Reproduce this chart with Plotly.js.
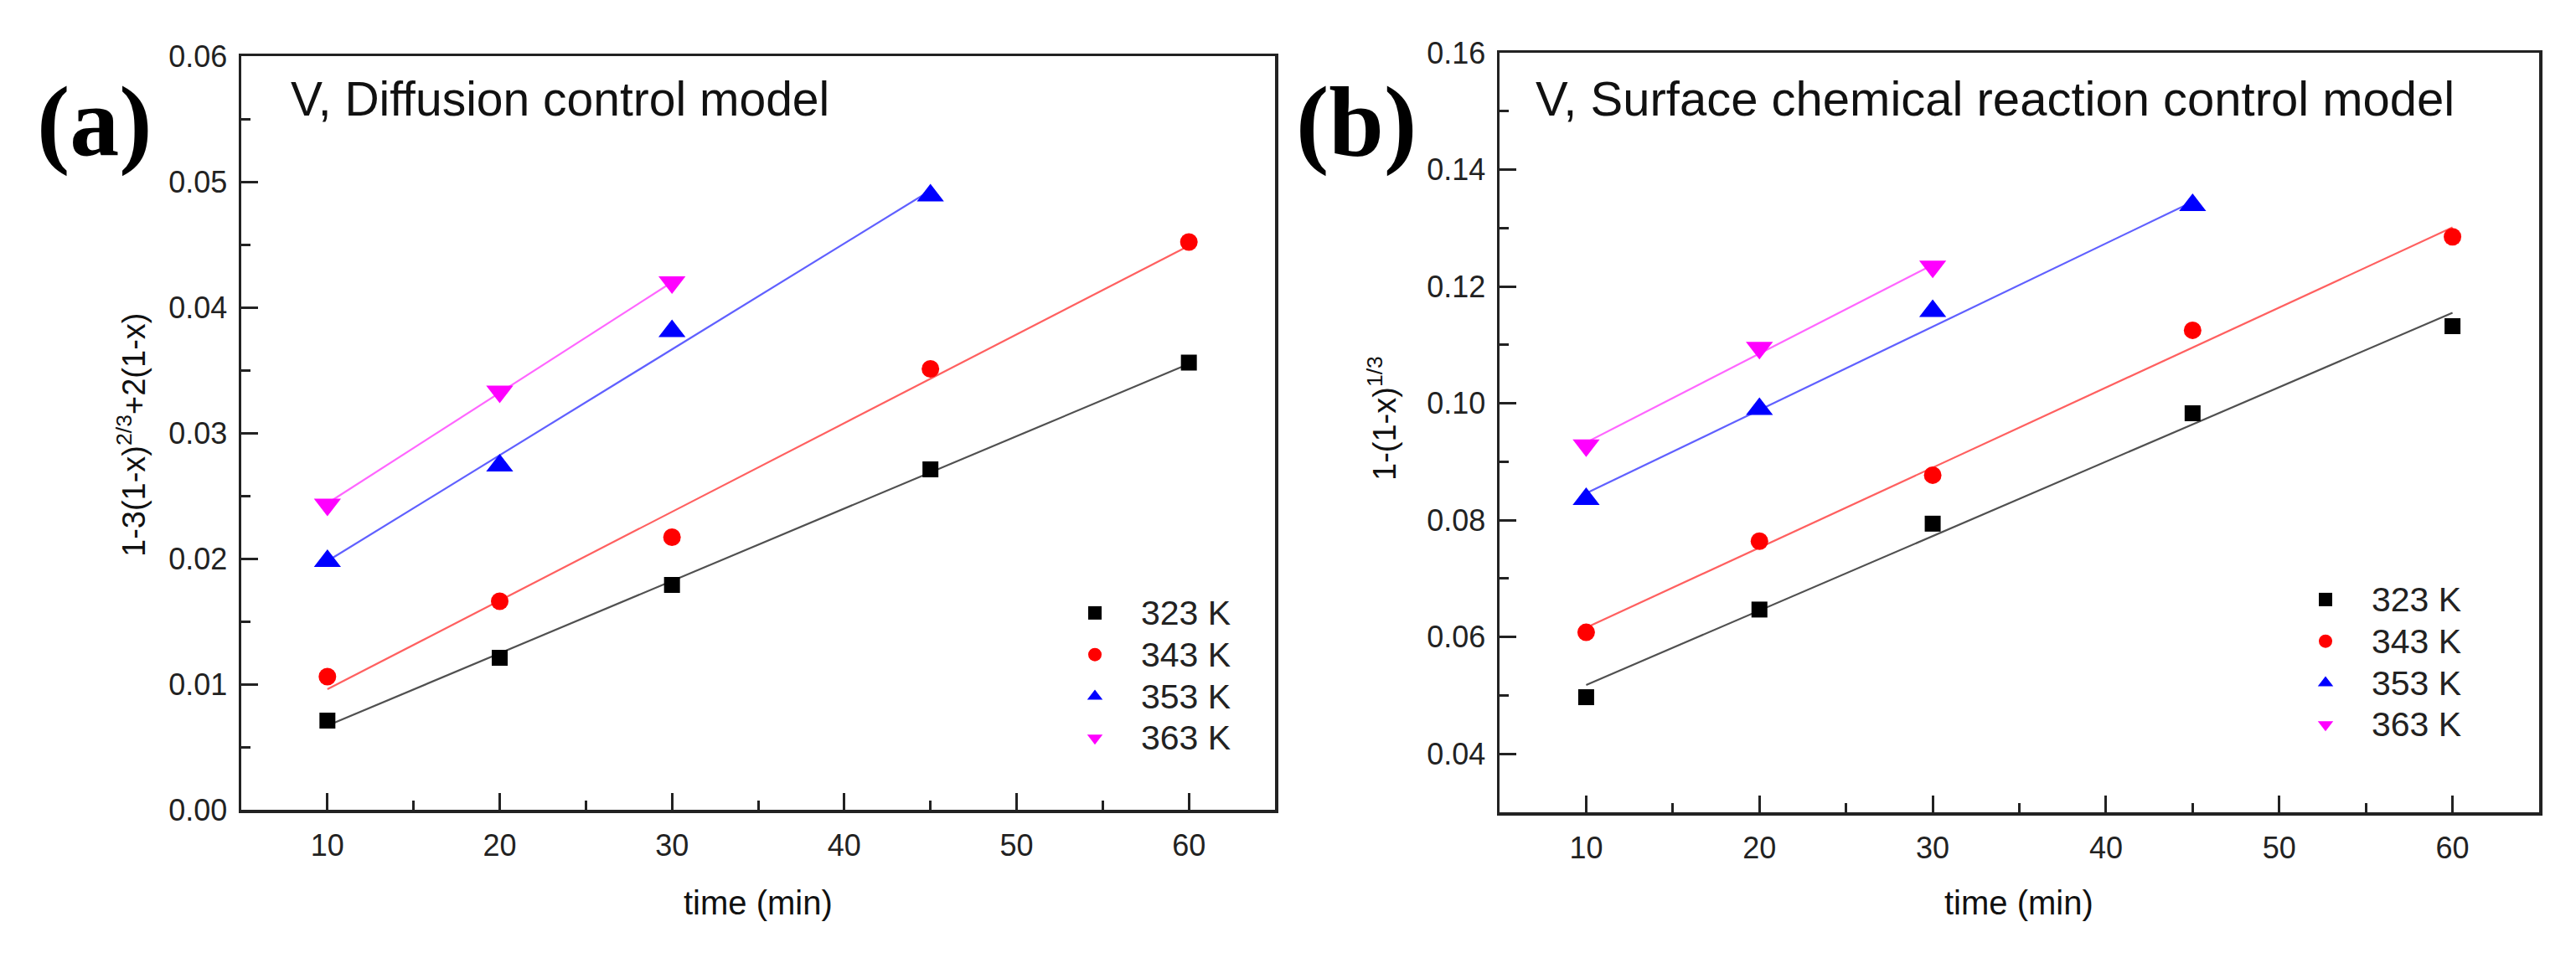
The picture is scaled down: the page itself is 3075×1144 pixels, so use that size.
<!DOCTYPE html>
<html>
<head>
<meta charset="utf-8">
<script src="https://cdn.plot.ly/plotly-3.0.1.min.js"></script>
<style>
  html, body { margin: 0; padding: 0; background: #ffffff; }
  #chart { width: 3075px; height: 1144px; }
</style>
</head>
<body>
<div id="chart"></div>
<script>
// ---------- data ----------
const seriesNames = ["323 K", "343 K", "353 K", "363 K"];

const time323 = [10, 20, 30, 45, 60];
const time343 = [10, 20, 30, 45, 60];
const time353 = [10, 20, 30, 45];
const time363 = [10, 20, 30];

// panel (a): 1-3(1-x)^(2/3)+2(1-x)
const diff323 = [0.0071, 0.0121, 0.0179, 0.0271, 0.0356];
const diff343 = [0.0106, 0.0166, 0.0217, 0.0351, 0.0452];
const diff353 = [0.0198, 0.0274, 0.0381, 0.0489];
const diff363 = [0.0243, 0.0333, 0.0420];

// panel (b): 1-(1-x)^(1/3)
const surf323 = [0.0497, 0.0647, 0.0794, 0.0983, 0.1132];
const surf343 = [0.0608, 0.0764, 0.0877, 0.1125, 0.1285];
const surf353 = [0.0836, 0.0990, 0.1158, 0.1339];
const surf363 = [0.0928, 0.1095, 0.1234];

// linear-fit lines: start / end times and values
const fitTime323 = [10, 60], fitTime343 = [10, 60], fitTime353 = [10, 45], fitTime363 = [10, 30];
const fitDiff323 = [0.0067, 0.0355];
const fitDiff343 = [0.0096, 0.0449];
const fitDiff353 = [0.0198, 0.0493];
const fitDiff363 = [0.0244, 0.0420];
const fitSurf323 = [0.0518, 0.1155];
const fitSurf343 = [0.0616, 0.1301];
const fitSurf353 = [0.0846, 0.1345];
const fitSurf363 = [0.0933, 0.1237];

const xTicks = [10, 20, 30, 40, 50, 60];
const yTicksA = [0.00, 0.01, 0.02, 0.03, 0.04, 0.05, 0.06];
const yTicksB = [0.04, 0.06, 0.08, 0.10, 0.12, 0.14, 0.16];

// ---------- styles ----------
const markerColors = ["#000000", "#ff0000", "#0000ff", "#ff00ff"];
const lineColors = ["#505050", "#ff6060", "#6060ff", "#ff66ff"];
const symbols = ["square", "circle", "triangle-up", "triangle-down"];
const sizes = [19, 21, 28, 28];
const sans = "Liberation Sans, Arial, Helvetica, sans-serif";
const serif = "Liberation Serif, Times New Roman, serif";

const panels = [
  { xa: "x", ya: "y", legend: "legend",
    times: [time323, time343, time353, time363],
    vals: [diff323, diff343, diff353, diff363],
    fitT: [fitTime323, fitTime343, fitTime353, fitTime363],
    fitV: [fitDiff323, fitDiff343, fitDiff353, fitDiff363] },
  { xa: "x2", ya: "y2", legend: "legend2",
    times: [time323, time343, time353, time363],
    vals: [surf323, surf343, surf353, surf363],
    fitT: [fitTime323, fitTime343, fitTime353, fitTime363],
    fitV: [fitSurf323, fitSurf343, fitSurf353, fitSurf363] }
];

const traces = [];
panels.forEach(p => {
  for (let i = 0; i < 4; i++) {
    traces.push({
      type: "scatter", mode: "lines", x: p.fitT[i], y: p.fitV[i],
      xaxis: p.xa, yaxis: p.ya, showlegend: false, hoverinfo: "skip",
      line: { color: lineColors[i], width: 2.2 }
    });
  }
  for (let i = 0; i < 4; i++) {
    traces.push({
      type: "scatter", mode: "markers", x: p.times[i], y: p.vals[i],
      xaxis: p.xa, yaxis: p.ya,
      name: '<span style="font-size:41px">' + seriesNames[i] + '</span>',
      legend: p.legend,
      marker: { symbol: symbols[i], size: sizes[i], color: markerColors[i], line: { width: 0 } }
    });
  }
});

const tickFont = { family: sans, size: 36, color: "#222222" };

function xAxis(domain, anchor) {
  return {
    domain: domain, anchor: anchor, range: [5, 65],
    tickmode: "array", tickvals: xTicks, ticktext: xTicks.map(String),
    ticks: "inside", ticklen: 20, tickwidth: 3, tickcolor: "#222222",
    minor: { ticks: "inside", ticklen: 11, tickwidth: 3, tickcolor: "#222222", dtick: 5, tick0: 5, showgrid: false },
    showline: true, linewidth: 3.5, linecolor: "#222222", mirror: true,
    showgrid: false, zeroline: false, tickfont: tickFont, ticklabelstandoff: 8
  };
}
function yAxis(domain, anchor, range, ticks, minorTick0, minorDtick) {
  return {
    domain: domain, anchor: anchor, range: range,
    tickmode: "array", tickvals: ticks, ticktext: ticks.map(v => v.toFixed(2)),
    ticks: "inside", ticklen: 20, tickwidth: 3, tickcolor: "#222222",
    minor: { ticks: "inside", ticklen: 11, tickwidth: 3, tickcolor: "#222222", dtick: minorDtick, tick0: minorTick0, showgrid: false },
    showline: true, linewidth: 3.5, linecolor: "#222222", mirror: true,
    showgrid: false, zeroline: false, tickfont: tickFont, ticklabelstandoff: 6
  };
}

const W = 3075, H = 1144;
const px = v => v / W;
const py = v => 1 - v / H;

const legendCommon = {
  font: { family: sans, size: 36, color: "#222222" },
  bgcolor: "rgba(0,0,0,0)", borderwidth: 0,
  xanchor: "left", yanchor: "top", itemwidth: 100,
  tracegroupgap: 0, itemclick: false, itemdoubleclick: false
};

const annFont = (s) => ({ family: sans, size: s, color: "#111111" });

const layout = {
  width: W, height: H,
  margin: { l: 0, r: 0, t: 0, b: 0 },
  paper_bgcolor: "#ffffff", plot_bgcolor: "#ffffff",
  showlegend: true,
  xaxis: xAxis([px(288), px(1522)], "y"),
  yaxis: yAxis([py(967), py(67)], "x", [0, 0.06], yTicksA, 0, 0.005),
  xaxis2: xAxis([px(1790), px(3031)], "y2"),
  yaxis2: yAxis([py(970), py(63)], "x2", [0.03, 0.16], yTicksB, 0.03, 0.01),
  legend: Object.assign({}, legendCommon, { x: px(1252), y: py(702) }),
  legend2: Object.assign({}, legendCommon, { x: px(2721), y: py(686) }),
  annotations: [
    { text: "<b>(a)</b>", xref: "paper", yref: "paper", x: px(42), y: py(145),
      xanchor: "left", yanchor: "middle", showarrow: false,
      font: { family: serif, size: 118, color: "#000000" } },
    { text: "<b>(b)</b>", xref: "paper", yref: "paper", x: px(1545), y: py(145),
      xanchor: "left", yanchor: "middle", showarrow: false,
      font: { family: serif, size: 118, color: "#000000" } },
    { text: "V, Diffusion control model", xref: "paper", yref: "paper", x: px(345), y: py(118),
      xanchor: "left", yanchor: "middle", showarrow: false, font: annFont(57) },
    { text: "V, Surface chemical reaction control model", xref: "paper", yref: "paper", x: px(1831), y: py(118),
      xanchor: "left", yanchor: "middle", showarrow: false, font: annFont(58) },
    { text: "time (min)", xref: "paper", yref: "paper", x: px(905), y: py(1078),
      xanchor: "center", yanchor: "middle", showarrow: false, font: annFont(40) },
    { text: "time (min)", xref: "paper", yref: "paper", x: px(2410), y: py(1078),
      xanchor: "center", yanchor: "middle", showarrow: false, font: annFont(40) },
    { text: "1-3(1-x)<sup>2/3</sup>+2(1-x)", xref: "paper", yref: "paper", x: px(157), y: py(520),
      xanchor: "center", yanchor: "middle", textangle: -90, showarrow: false, font: annFont(38) },
    { text: "1-(1-x)<sup>1/3</sup>", xref: "paper", yref: "paper", x: px(1650), y: py(500),
      xanchor: "center", yanchor: "middle", textangle: -90, showarrow: false, font: annFont(38) }
  ]
};

Plotly.newPlot("chart", traces, layout, { staticPlot: true, displayModeBar: false });
</script>
</body>
</html>
